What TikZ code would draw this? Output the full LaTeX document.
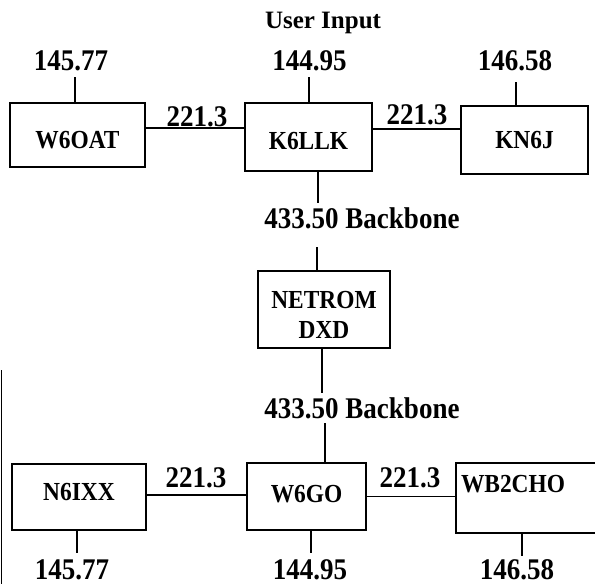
\documentclass[tikz,border=0pt]{standalone}
\usepackage{fontspec}
\setmainfont{Liberation Serif}
\newfontfamily\cond[FakeStretch=0.9]{Liberation Serif}
\begin{document}
\begin{tikzpicture}[x=1pt,y=-1pt,line width=1.1pt,
  box/.style={draw,line width=1.3pt,inner sep=0pt,text depth=0pt,
    font=\cond\fontsize{26}{30}\selectfont\bfseries},
  num/.style={anchor=base,inner sep=0pt,font=\cond\fontsize{30}{32}\selectfont\bfseries},
  bl/.style={text height=#1}]
\clip (0,0) rectangle (595,584);
\useasboundingbox (0,0) rectangle (595,584);
\fill[white] (0,0) rectangle (595,584);

% title
\node[num,font=\fontsize{25}{27}\selectfont\bfseries] (ui) at (323,28) {User Input};

% top row boxes
\node[box,bl=26pt,minimum width=135pt,minimum height=64pt] (w6oat) at (77.5,135) {W6OAT};
\node[box,bl=24pt,minimum width=127pt,minimum height=68pt] (k6llk) at (308.5,137) {K6LLK};
\node[box,bl=16pt,minimum width=127pt,minimum height=68pt] (kn6j) at (524.5,140) {KN6J};

% top frequencies
\node[num] (t1) at (71,70) {145.77};
\node[num] (t2) at (309.5,70) {144.95};
\node[num] (t3) at (515,70) {146.58};
\draw ([xshift=-2.5pt]w6oat.north) -- ++(0,-25);
\draw ([xshift=0.5pt]k6llk.north) -- ++(0,-25);
\draw ([xshift=-8.5pt]kn6j.north) -- ++(0,-23);

% top links
\draw ([yshift=7pt]w6oat.east) -- ([yshift=7pt]w6oat.east -| k6llk.west);
\draw ([yshift=8pt]k6llk.east) -- ([yshift=8pt]k6llk.east -| kn6j.west);
\node[num] (l1) at (197,126) {221.3};
\node[num] (l2) at (417,124) {221.3};

% backbone
\node[num] (bb1) at (362,228) {433.50 Backbone};
\node[box,align=center,text height=57pt,minimum width=132pt,minimum height=77pt] (netrom) at (324,309.5) {NETROM\\DXD};
\node[num] (bb2) at (362,418) {433.50 Backbone};
\draw ([xshift=9.5pt]k6llk.south) -- ++(0,31);
\draw ([xshift=-7pt]netrom.north) -- ++(0,-23);
\draw ([xshift=-2pt]netrom.south) -- ++(0,44);

% bottom row boxes
\node[box,bl=6pt,minimum width=134pt,minimum height=66pt] (n6ixx) at (79,497) {N6IXX};
\node[box,bl=11pt,minimum width=119pt,minimum height=67pt] (w6go) at (306.5,496.5) {W6GO};
\node[box,text height=0pt,text depth=12pt,minimum width=160pt,minimum height=70pt,
  inner xsep=5pt,text width=150pt,align=left] (wb2cho) at (536,498) {WB2CHO};
\draw ([xshift=18.5pt]w6go.north) -- ++(0,-39);

% bottom links
\draw ([yshift=2pt]n6ixx.east) -- ([yshift=2pt]n6ixx.east -| w6go.west);
\draw (w6go.east) -- (w6go.east -| wb2cho.west);
\node[num] (l3) at (196,487) {221.3};
\node[num] (l4) at (410,487) {221.3};

% bottom frequencies
\node[num] (b1) at (72,579) {145.77};
\node[num] (b2) at (310,579) {144.95};
\node[num] (b3) at (517,579) {146.58};
\draw ([xshift=-2pt]n6ixx.south) -- ++(0,22);
\draw ([xshift=4.5pt]w6go.south) -- ++(0,22);
\draw ([xshift=-14pt]wb2cho.south) -- ++(0,22);

% scan edge line
\draw[line width=0.9pt] (1.5,370) -- (1.5,584);
\end{tikzpicture}
\end{document}
